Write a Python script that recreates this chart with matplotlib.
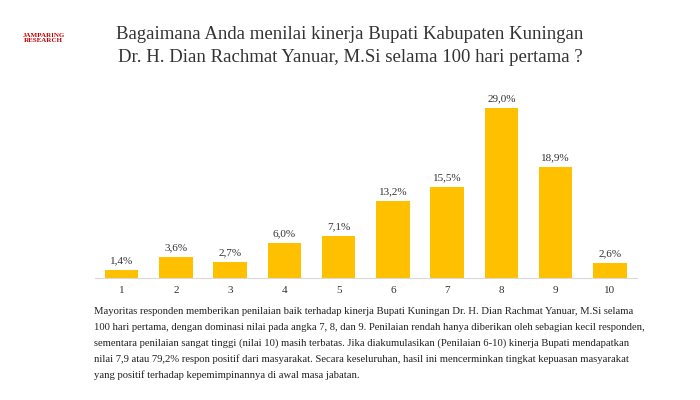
import matplotlib.pyplot as plt

categories = ["1", "2", "3", "4", "5", "6", "7", "8", "9", "10"]
values = [1.4, 3.6, 2.7, 6.0, 7.1, 13.2, 15.5, 29.0, 18.9, 2.6]
labels = ["1,4%", "3,6%", "2,7%", "6,0%", "7,1%", "13,2%", "15,5%", "29,0%", "18,9%", "2,6%"]

title = ("Bagaimana Anda menilai kinerja Bupati Kabupaten Kuningan\n"
         "Dr. H. Dian Rachmat Yanuar, M.Si selama 100 hari pertama ?")
para = [
    "Mayoritas responden memberikan penilaian baik terhadap kinerja Bupati Kuningan Dr. H. Dian Rachmat Yanuar, M.Si selama",
    "100 hari pertama, dengan dominasi nilai pada angka 7, 8, dan 9. Penilaian rendah hanya diberikan oleh sebagian kecil responden,",
    "sementara penilaian sangat tinggi (nilai 10) masih terbatas. Jika diakumulasikan (Penilaian 6-10) kinerja Bupati mendapatkan",
    "nilai 7,9 atau 79,2% respon positif dari masyarakat. Secara keseluruhan, hasil ini mencerminkan tingkat kepuasan masyarakat",
    "yang positif terhadap kepemimpinannya di awal masa jabatan.",
]

plt.rcParams["font.family"] = "Liberation Serif"
fig = plt.figure(figsize=(7, 4), dpi=100)
fig.text(0.5, 0.885, title, ha="center", va="center", fontsize=13.5,
         color="#333333", linespacing=1.5)

# logo placeholder
fig.text(0.062, 0.905, "JAMPARING\nRESEARCH", ha="center", va="center",
         fontsize=5, color="#c00000", fontweight="bold")

ax = fig.add_axes([0.135, 0.305, 0.775, 0.44])
x = range(len(values))
ax.bar(x, values, width=0.62, color="#FFC000")
for i, (v, l) in enumerate(zip(values, labels)):
    ax.text(i, v + 0.8, l, ha="center", va="bottom", fontsize=8, color="#333333")
ax.set_xticks(list(x))
ax.set_xticklabels(categories, fontsize=8, color="#333333")
ax.set_xlim(-0.5, 9.5)
ax.set_ylim(0, 30)
ax.set_yticks([])
ax.tick_params(axis="x", length=0, pad=6)
for s in ["top", "right", "left"]:
    ax.spines[s].set_visible(False)
ax.spines["bottom"].set_color("#d9d9d9")

for j, line in enumerate(para):
    fig.text(0.135, 0.222 - j * 0.04, line, ha="left", va="center",
             fontsize=7.7, color="#222222")

fig.savefig("out.png", dpi=100, facecolor="white")
